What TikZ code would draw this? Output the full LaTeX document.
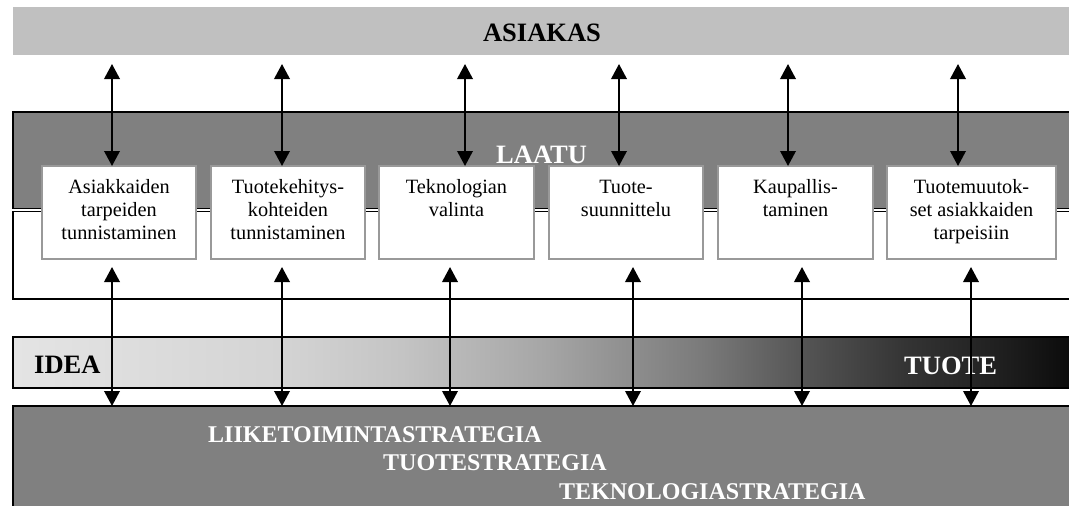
\documentclass[tikz,border=0pt]{standalone}
\usepackage{fontspec}
\setmainfont{Liberation Serif}
\usetikzlibrary{arrows.meta}

\definecolor{skyband}{gray}{0.753}
\definecolor{midgray}{gray}{0.502}
\definecolor{boxedge}{gray}{0.60}
% idea -> product gradient
\definecolor{g0}{RGB}{228,228,228}
\definecolor{g1}{RGB}{212,212,212}
\definecolor{g2}{RGB}{196,196,196}
\definecolor{g3}{RGB}{166,166,166}
\definecolor{g4}{RGB}{122,122,122}
\definecolor{g5}{RGB}{84,84,84}
\definecolor{g6}{RGB}{52,52,52}
\definecolor{g7}{RGB}{30,30,30}
\definecolor{g8}{RGB}{10,10,10}
\pgfdeclarehorizontalshading{ideatuote}{100bp}{color(0bp)=(g0); color(25bp)=(g0);
  color(37.6bp)=(g1); color(43.3bp)=(g2); color(50bp)=(g3); color(57.5bp)=(g4);
  color(62.3bp)=(g5); color(67bp)=(g6); color(71.7bp)=(g7); color(75bp)=(g8); color(100bp)=(g8)}

\newcommand{\stagetext}[2]{\parbox[t][93pt][t]{#1}{\centering\rule{0pt}{27pt}#2}}

\begin{document}
\begin{tikzpicture}[x=1pt,y=-1pt,
  band/.style={anchor=north west, inner sep=0pt, outer sep=0pt, minimum width=1062pt},
  frame/.style={draw=black, line width=1.4pt},
  stage/.style={anchor=north, draw=boxedge, line width=1.5pt, fill=white,
    inner sep=0pt, outer sep=0pt, font=\fontsize{20.3}{23}\selectfont},
  bigtext/.style={inner sep=0pt, font=\bfseries\fontsize{26.5}{26.5}\selectfont},
  strattext/.style={inner sep=0pt, anchor=base west, text=white,
    font=\bfseries\fontsize{24}{24}\selectfont},
  kaksi/.style={line width=2pt,
    arrows={Triangle[length=15pt,width=15.5pt]-Triangle[length=15pt,width=15.5pt]}}]

\clip (0,0) rectangle (1069,506);
\fill[white] (0,0) rectangle (1069,506);

% bands
\node[band, fill=skyband, minimum height=48pt] (asiakas) at (13,7) {};
\node[band, frame, fill=midgray, minimum height=96.6pt] (laatu) at (13,112) {};
\node[band, frame, fill=white, minimum height=87.8pt] (ympari) at (13,211.2) {};
\node[band, frame, shade, shading=ideatuote, minimum height=51pt] (kehitys) at (13,337) {};
\node[band, frame, fill=midgray, minimum height=120pt] (strategia) at (13,406) {};

% band labels
\node[bigtext, anchor=base] (t-asiakas) at (542,41) {ASIAKAS};
\node[bigtext, anchor=base west, text=white] (t-laatu) at (496,163) {LAATU};
\node[bigtext, anchor=base west] (t-idea) at (34,373) {IDEA};
\node[bigtext, anchor=base west, text=white] (t-tuote) at (904,374) {TUOTE};
\node[strattext] (s1) at (208,442) {LIIKETOIMINTASTRATEGIA};
\node[strattext] (s2) at (383,470) {TUOTESTRATEGIA};
\node[strattext] (s3) at (559,499) {TEKNOLOGIASTRATEGIA};

% process stages
\node[stage] (b1) at (119,166) {\stagetext{154pt}{Asiakkaiden\\tarpeiden\\tunnistaminen}};
\node[stage] (b2) at (288,166) {\stagetext{154pt}{Tuotekehitys-\\kohteiden\\tunnistaminen}};
\node[stage] (b3) at (456.5,166) {\stagetext{155pt}{Teknologian\\valinta}};
\node[stage] (b4) at (626,166) {\stagetext{154pt}{Tuote-\\suunnittelu}};
\node[stage] (b5) at (795.5,166) {\stagetext{155pt}{Kaupallis-\\taminen}};
\node[stage] (b6) at (971.5,166) {\stagetext{169pt}{Tuotemuutok-\\set asiakkaiden\\tarpeisiin}};

% arrow ends below the customer band
\coordinate (y1) at (112,64);
\coordinate (y2) at (282,64);
\coordinate (y3) at (465,64);
\coordinate (y4) at (619,64);
\coordinate (y5) at (788,64);
\coordinate (y6) at (958,64);
% arrow ends below the stages
\coordinate (a1) at (112,267);
\coordinate (a2) at (282,267);
\coordinate (a3) at (450,267);
\coordinate (a4) at (633,267);
\coordinate (a5) at (802,267);
\coordinate (a6) at (971,267);

\foreach \i in {1,...,6}{
  \draw[kaksi] (y\i) -- (y\i |- b\i.north);
  \draw[kaksi] (a\i) -- (a\i |- strategia.north);
}
\end{tikzpicture}
\end{document}
